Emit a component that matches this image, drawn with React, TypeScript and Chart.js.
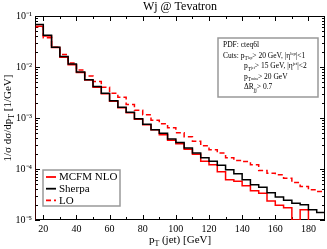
import React, { useEffect, useRef } from "react";
import { Chart, registerables } from "chart.js";

Chart.register(...registerables);

// ---- data ----
const binEdges = [15, 20, 25, 30, 35, 40, 45, 50, 55, 60, 65, 70, 75, 80, 85, 90, 95, 100, 105, 110, 115, 120, 125, 130, 135, 140, 145, 150, 155, 160, 165, 170, 175, 180, 185, 190];

const mcfmNLO = [0.0631, 0.0405, 0.0241, 0.0156, 0.0111, 0.00776, 0.00553, 0.00403, 0.00300, 0.00214,
  0.00159, 0.00127, 0.000946, 0.000738, 0.000589, 0.000470, 0.000366, 0.000313, 0.000244, 0.000195,
  0.000142, 0.000121, 0.0000881, 0.0000614, 0.0000573, 0.0000468, 0.0000373, 0.0000333, 0.0000237, 0.0000194,
  0.0000173, 0, 0.0000158];

const sherpa = [0.0681, 0.0420, 0.0244, 0.0160, 0.0115, 0.00801, 0.00565, 0.00416, 0.00307, 0.00219,
  0.00163, 0.00130, 0.000968, 0.000755, 0.000589, 0.000502, 0.000387, 0.000332, 0.000258, 0.000205,
  0.000166, 0.000142, 0.000118, 0.0000964, 0.0000805, 0.0000614, 0.0000490, 0.0000437, 0.0000341, 0.0000284,
  0.0000243, 0.0000214, 0.0000198, 0.0000158, 0.0000140];

const lo = [0.0614, 0.0373, 0.0244, 0.0175, 0.0120, 0.00869, 0.00663, 0.00517, 0.00403, 0.00307,
  0.00256, 0.00183, 0.00142, 0.00116, 0.000905, 0.000773, 0.000644, 0.000514, 0.000429, 0.000350,
  0.000286, 0.000238, 0.000205, 0.000166, 0.000147, 0.000140, 0.000121, 0.0000935, 0.0000830, 0.0000769,
  0.0000662, 0.0000543, 0.0000453, 0.0000390, 0.0000361];

const xTickValues = [20, 40, 60, 80, 100, 120, 140, 160, 180];
const yTickValues = [1e-5, 1e-4, 1e-3, 1e-2, 1e-1];
const yTickLabels = ["10\u207B\u2075", "10\u207B\u2074", "10\u207B\u00B3", "10\u207B\u00B2", "10\u207B\u00B9"];
const X_MIN = 15;
const X_MAX = 190;
const Y_MIN = 1e-5;
const Y_MAX = 1e-1;

const chartTitle = "Wj @ Tevatron";
const seriesNames = ["MCFM NLO", "Sherpa", "LO"];
const seriesColors = ["#ff0000", "#000000", "#ff0000"];
const seriesDash: number[][] = [[], [], [5, 3]];

type Part = [string, string];
const xTitleParts: Part[] = [["p", "n"], ["T", "sub"], [" (jet) [GeV]", "n"]];
const yTitleParts: Part[] = [["1/\u03C3 d\u03C3/dp", "n"], ["T", "sub"], [" [1/GeV]", "n"]];
const infoLines: Part[][] = [
  [["PDF: cteq6l", "n"]],
  [["Cuts: p", "n"], ["T", "sub"], ["lep", "tiny"], ["> 20 GeV, |\u03B7", "n"], ["lep", "sup"], ["|<1", "n"]],
  [["p", "n"], ["T", "sub"], ["jet", "tiny"], ["> 15 GeV, |\u03B7", "n"], ["jet", "sup"], ["|<2", "n"]],
  [["p", "n"], ["T", "sub"], ["miss", "tiny"], ["> 20 GeV", "n"]],
  [["\u0394R", "n"], ["jj", "sub"], ["> 0.7", "n"]],
];

const FONT = '"Liberation Serif", "Times New Roman", Times, serif';

function histPoints(edges: number[], values: number[]) {
  const pts: { x: number; y: number }[] = [{ x: edges[0], y: Y_MIN }];
  values.forEach((v, i) => pts.push({ x: edges[i], y: v > 0 ? v : Y_MIN }));
  const n = values.length;
  const last = values[n - 1] > 0 ? values[n - 1] : Y_MIN;
  pts.push({ x: edges[n], y: last });
  if (n < edges.length - 1) pts.push({ x: edges[n], y: Y_MIN });
  return pts;
}

function partStyle(kind: string, size: number) {
  if (kind === "sub") return { s: size * 0.72, dy: size * 0.3 };
  if (kind === "sup") return { s: size * 0.62, dy: -size * 0.42 };
  if (kind === "tiny") return { s: size * 0.5, dy: size * 0.12 };
  return { s: size, dy: 0 };
}

function richWidth(ctx: CanvasRenderingContext2D, parts: Part[], size: number) {
  let w = 0;
  for (const [t, k] of parts) {
    const st = partStyle(k, size);
    ctx.font = `${st.s}px ${FONT}`;
    w += ctx.measureText(t).width;
  }
  return w;
}

function drawRich(ctx: CanvasRenderingContext2D, x: number, yCenter: number, parts: Part[], size: number, align: string) {
  const w = richWidth(ctx, parts, size);
  let cx = align === "center" ? x - w / 2 : x;
  const base = yCenter + size * 0.33;
  ctx.textBaseline = "alphabetic";
  ctx.textAlign = "left";
  for (const [t, k] of parts) {
    const st = partStyle(k, size);
    ctx.font = `${st.s}px ${FONT}`;
    ctx.fillText(t, cx, base + st.dy);
    cx += ctx.measureText(t).width;
  }
}

const decorPlugin = {
  id: "decor",
  beforeDatasetsDraw(chart: any) {
    const ctx: CanvasRenderingContext2D = chart.ctx;
    const { left, right, top, bottom } = chart.chartArea;
    const xs = chart.scales.x;
    const ys = chart.scales.y;
    ctx.save();
    ctx.strokeStyle = "#000";
    ctx.lineWidth = 1;
    ctx.strokeRect(left + 0.5, top + 0.5, right - left - 1, bottom - top - 1);
    ctx.beginPath();
    for (let v = 20; v < X_MAX; v += 10) {
      const px = Math.round(xs.getPixelForValue(v)) + 0.5;
      const len = v % 20 === 0 ? 5 : 3;
      ctx.moveTo(px, bottom); ctx.lineTo(px, bottom - len);
      ctx.moveTo(px, top); ctx.lineTo(px, top + len);
    }
    for (let e = -5; e <= -1; e++) {
      for (let m = 1; m <= 9; m++) {
        const v = m * Math.pow(10, e);
        if (v > Y_MAX * 1.0001) continue;
        const py = Math.round(ys.getPixelForValue(v)) + 0.5;
        const len = m === 1 ? 5 : 3;
        ctx.moveTo(left, py); ctx.lineTo(left + len, py);
        ctx.moveTo(right, py); ctx.lineTo(right - len, py);
      }
    }
    ctx.stroke();
    ctx.restore();
  },
  afterDraw(chart: any) {
    const ctx: CanvasRenderingContext2D = chart.ctx;
    const { left, right, top, bottom } = chart.chartArea;
    const midX = (left + right) / 2;
    ctx.save();
    ctx.fillStyle = "#000";
    // title
    ctx.font = `12px ${FONT}`;
    ctx.textAlign = "center";
    ctx.textBaseline = "middle";
    ctx.fillText(chartTitle, midX, 7);
    // x title
    drawRich(ctx, midX, 239, xTitleParts, 11, "center");
    // y title
    ctx.save();
    ctx.translate(7, (top + bottom) / 2);
    ctx.rotate(-Math.PI / 2);
    drawRich(ctx, 0, 0, yTitleParts, 11, "center");
    ctx.restore();

    // legend box
    ctx.fillStyle = "#fff";
    ctx.fillRect(43, 170, 77, 36);
    ctx.strokeStyle = "#999";
    ctx.lineWidth = 1.5;
    ctx.strokeRect(43, 170, 77, 36);
    const rows = [177, 188.7, 200.3];
    seriesNames.forEach((name, i) => {
      ctx.strokeStyle = seriesColors[i];
      ctx.lineWidth = 1.8;
      ctx.setLineDash(seriesDash[i]);
      ctx.beginPath();
      ctx.moveTo(46, rows[i]);
      ctx.lineTo(56, rows[i]);
      ctx.stroke();
      ctx.setLineDash([]);
      ctx.fillStyle = "#000";
      ctx.font = `11px ${FONT}`;
      ctx.textAlign = "left";
      ctx.textBaseline = "middle";
      ctx.fillText(name, 59, rows[i] + 0.5);
    });

    // info box
    ctx.fillStyle = "#fff";
    ctx.fillRect(218, 38, 100, 59);
    ctx.strokeStyle = "#999";
    ctx.lineWidth = 1.5;
    ctx.strokeRect(218, 38, 100, 59);
    ctx.fillStyle = "#000";
    const infoY = [45, 55.5, 66, 76.5, 87];
    const infoX = [223, 223, 244, 244, 244];
    infoLines.forEach((parts, i) => drawRich(ctx, infoX[i], infoY[i], parts, 7.5, "left"));
    ctx.restore();
  },
};

export default function App() {
  const ref = useRef<HTMLCanvasElement | null>(null);
  useEffect(() => {
    if (!ref.current) return;
    const series = [mcfmNLO, sherpa, lo];
    const datasets = series.map((vals, i) => ({
      label: seriesNames[i],
      data: histPoints(binEdges, vals),
      borderColor: seriesColors[i],
      borderWidth: 1.5,
      borderDash: seriesDash[i],
      stepped: true as const,
      pointRadius: 0,
      fill: false,
      order: i === 1 ? 0 : i === 0 ? 1 : 2,
    }));
    const chart = new Chart(ref.current, {
      type: "line",
      data: { datasets },
      options: {
        animation: false,
        responsive: false,
        layout: { padding: { top: 16, right: 2, left: 0, bottom: 0 } },
        plugins: { legend: { display: false }, tooltip: { enabled: false }, title: { display: false } },
        scales: {
          x: {
            type: "linear",
            min: X_MIN,
            max: X_MAX,
            grid: { display: false, drawTicks: false },
            border: { display: false },
            afterBuildTicks: (s: any) => { s.ticks = xTickValues.map((v) => ({ value: v })); },
            afterFit: (s: any) => { s.height = 29; },
            ticks: { color: "#000", font: { family: FONT, size: 10 }, padding: 3, maxRotation: 0, callback: (v: any) => String(v) },
          },
          y: {
            type: "logarithmic",
            min: Y_MIN,
            max: Y_MAX,
            grid: { display: false, drawTicks: false },
            border: { display: false },
            afterBuildTicks: (s: any) => { s.ticks = yTickValues.map((v) => ({ value: v })); },
            afterFit: (s: any) => { s.width = 35; },
            ticks: {
              color: "#000",
              font: { family: FONT, size: 10 },
              padding: 3,
              callback: (v: any) => {
                const idx = yTickValues.findIndex((t) => Math.abs(Math.log10(t) - Math.log10(v)) < 1e-6);
                return idx >= 0 ? yTickLabels[idx] : "";
              },
            },
          },
        },
      },
      plugins: [decorPlugin],
    });
    return () => chart.destroy();
  }, []);
  return (
    <div style={{ position: "fixed", left: 0, top: 0, width: 327, height: 249, background: "#fff" }}>
      <canvas ref={ref} width={327} height={249} style={{ display: "block", width: 327, height: 249 }} />
    </div>
  );
}
